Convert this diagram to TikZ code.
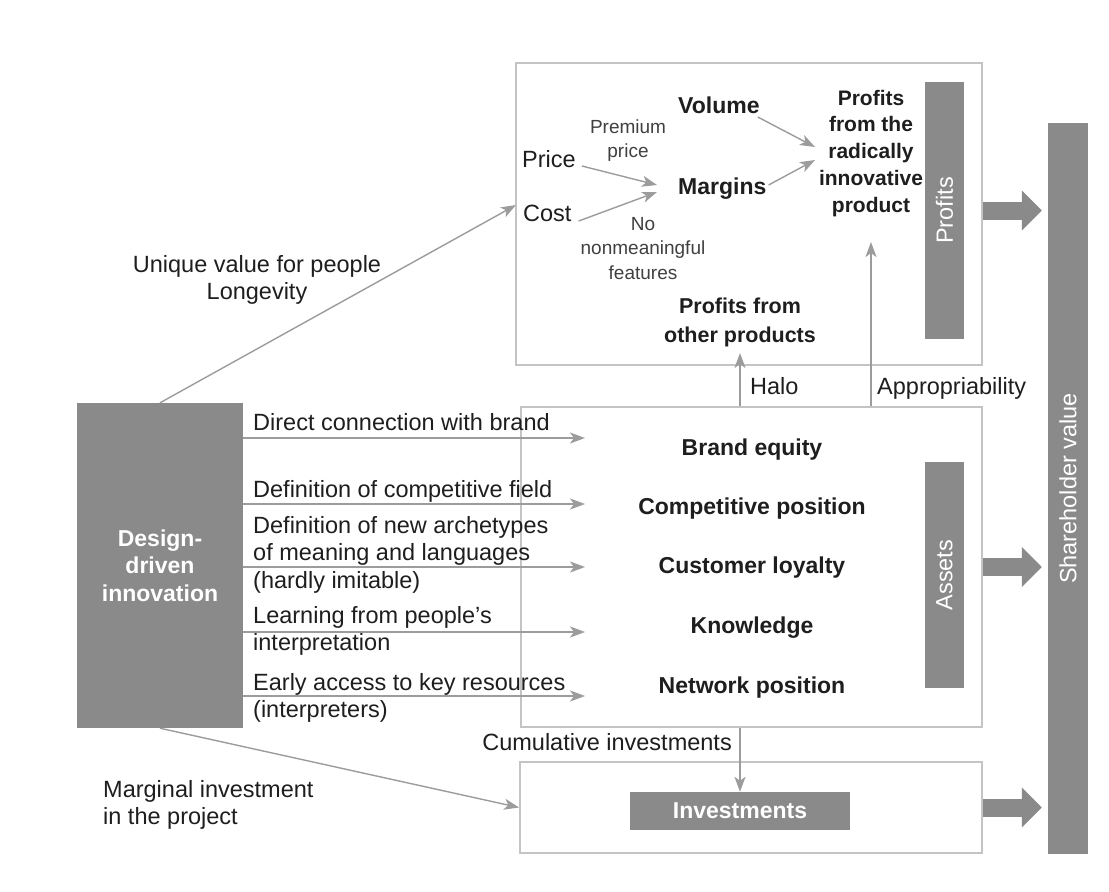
\documentclass[tikz,border=0pt]{standalone}
\usepackage{fontspec}
\setmainfont{Liberation Sans}
\usetikzlibrary{arrows.meta,calc}
\definecolor{boxgray}{HTML}{C4C4C4}
\definecolor{linegray}{HTML}{9C9C9C}
\definecolor{bargray}{HTML}{8A8A8A}
\definecolor{txtdark}{HTML}{1E1E1E}
\definecolor{txtsoft}{HTML}{404040}
\newcommand{\tlines}[1]{\begin{tabular}[t]{@{}l@{}}#1\end{tabular}}
\newcommand{\clines}[1]{\begin{tabular}[t]{@{}c@{}}#1\end{tabular}}
\newcommand{\dgReg}{\fontsize{23.5}{27.5}\selectfont}
\newcommand{\dgBold}{\fontsize{23}{27.5}\selectfont\bfseries}
\newcommand{\dgSmall}{\fontsize{19}{24.5}\selectfont}
\newcommand{\dgProf}{\fontsize{21}{26.75}\selectfont\bfseries}
\newcommand{\dgOther}{\fontsize{21.5}{29}\selectfont\bfseries}
\begin{document}
\begin{tikzpicture}[x=1pt,y=-1pt,
  frame/.style={draw=boxgray,line width=1.8pt,inner sep=0pt},
  greybar/.style={fill=bargray,draw=none,inner sep=0pt,text=white},
  conn/.style={draw=linegray,line width=1.4pt,-{Stealth[length=15pt,width=11pt,inset=4pt]}},
  fatarrow/.style={draw=bargray,line width=18pt,-{Triangle[length=20pt,width=39pt]},shorten >=6pt},
  dglbl/.style={inner sep=0pt,text=txtdark,font=\dgReg},
  dgbold/.style={inner sep=0pt,text=txtdark,font=\dgBold},
  dgsmall/.style={inner sep=0pt,text=txtsoft,font=\dgSmall},
  bartext/.style={inner sep=0pt,text=white,font=\dgReg,rotate=90},
]
\fill[white] (0,0) rectangle (1109,892);
\useasboundingbox (0,0) rectangle (1109,892);

% boxes
\node[frame,minimum width=466pt,minimum height=302pt] (top) at (749,214) {};
\node[frame,minimum width=461pt,minimum height=320pt] (assets) at (751.5,567) {};
\node[frame,minimum width=462pt,minimum height=91pt] (inv) at (751,807.5) {};

% bars
\node[greybar,minimum width=39pt,minimum height=257pt] (profitsbar) at (944.5,210.5) {};
\node[greybar,minimum width=39pt,minimum height=226pt] (assetsbar) at (944.5,575) {};
\node[greybar,minimum width=40pt,minimum height=731pt] (svbar) at (1068,488.5) {};
\node[greybar,minimum width=220pt,minimum height=38pt,font=\dgBold] (invbar) at (740,811) {Investments};
\node[greybar,minimum width=166pt,minimum height=325pt,font=\dgBold,align=center] (design) at (160,565.5) {Design-\\driven\\innovation};

\node[bartext] (profitstxt) at (profitsbar.center) {Profits};
\node[bartext] (assetstxt) at (assetsbar.center) {Assets};
\node[bartext] (svtxt) at (svbar.center) {Shareholder value};

% fat arrows
\draw[fatarrow] (top.east |- profitsbar.center) -- (svbar.west |- profitsbar.center);
\draw[fatarrow] (assets.east) -- (svbar.west |- assets.east);
\draw[fatarrow] (inv.east) -- (svbar.west |- inv.east);

% top box contents
\node[dglbl,anchor=base west] (price) at (522,167) {Price};
\node[dglbl,anchor=base west] (cost) at (523,221) {Cost};
\node[dgbold,anchor=base west] (volume) at (678,113) {Volume};
\node[dgbold,anchor=base west] (margins) at (678,194) {Margins};
\node[dgsmall,anchor=base] (prem) at (628,133) {\clines{Premium\\price}};
\node[dgsmall,anchor=base] (nonm) at (643,230) {\clines{No\\nonmeaningful\\features}};
\node[inner sep=0pt,text=txtdark,font=\dgProf,anchor=base] (prod) at (871,105) {\clines{Profits\\from the\\radically\\innovative\\product}};
\node[inner sep=0pt,text=txtdark,font=\dgOther,anchor=base] (other) at (740,313) {\clines{Profits from\\other products}};

\draw[conn] ($(price.base east)+(6,-1)$) -- ($(margins.base west)+(-21,-9)$);
\draw[conn] ($(cost.base east)+(7,0)$) -- ($(margins.base west)+(-21,-2)$);
\draw[conn] ($(volume.base east)+(-2,4)$) -- ($(prod.base)+(-56,42)$);
\draw[conn] ($(margins.base east)+(2,-9)$) -- ($(prod.base)+(-56,55)$);

% links from assets to profits
\draw[conn] (assets.north -| prod.base) -- ($(prod.base)+(0,137)$);
\draw[conn] (assets.north -| other.base) -- ($(other.base)+(0,40)$);
\node[dglbl,anchor=base west] (halo) at (750,394) {Halo};
\node[dglbl,anchor=base west] (approp) at (877,394) {Appropriability};

% assets contents
\node[dgbold,anchor=base] (brand) at (752,455) {Brand equity};
\node[dgbold,anchor=base] (comp) at (752,514) {Competitive position};
\node[dgbold,anchor=base] (loyal) at (752,573) {Customer loyalty};
\node[dgbold,anchor=base] (know) at (752,633) {Knowledge};
\node[dgbold,anchor=base] (netw) at (752,693) {Network position};

% arrows from design-driven innovation
\coordinate (t1) at (585,438);
\coordinate (t2) at (585,504);
\coordinate (t3) at (585,567);
\coordinate (t4) at (585,632);
\coordinate (t5) at (585,696);
\draw[conn] (design.east |- t1) -- (t1);
\draw[conn] (design.east |- t2) -- (t2);
\draw[conn] (design.east |- t3) -- (t3);
\draw[conn] (design.east |- t4) -- (t4);
\draw[conn] (design.east |- t5) -- (t5);
\node[dglbl,anchor=base west] (l1) at (253,430) {Direct connection with brand};
\node[dglbl,anchor=base west] (l2) at (253,497) {Definition of competitive field};
\node[dglbl,anchor=base west] (l3) at (253,533) {\tlines{Definition of new archetypes\\of meaning and languages\\(hardly imitable)}};
\node[dglbl,anchor=base west] (l4) at (253,623) {\tlines{Learning from people's\\interpretation}};
\node[dglbl,anchor=base west] (l5) at (253,690) {\tlines{Early access to key resources\\(interpreters)}};

% unique value
\coordinate (uvtip) at (516,205);
\draw[conn] (design.north) -- (uvtip);
\node[dglbl,anchor=base] (uv) at (257,272) {\clines{Unique value for people\\Longevity}};

% investments
\draw[conn] (design.south) -- (inv.west);
\node[dglbl,anchor=base west] (marg) at (103,797) {\tlines{Marginal investment\\in the project}};
\draw[conn] (assets.south -| invbar.north) -- (invbar.north);
\node[dglbl,anchor=base east] (cumul) at (732,750) {Cumulative investments};
\end{tikzpicture}
\end{document}
